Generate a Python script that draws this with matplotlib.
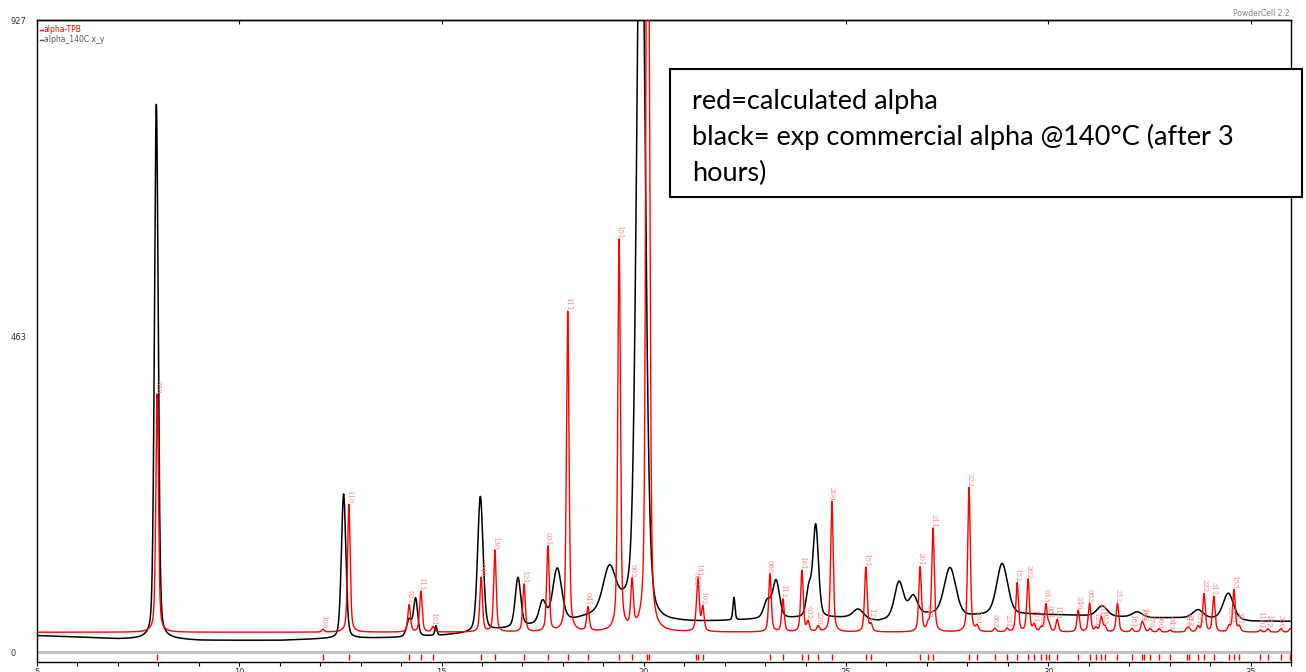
import numpy as np
import matplotlib
matplotlib.use("Agg")
import matplotlib.pyplot as plt
from matplotlib.patches import Rectangle
from matplotlib.lines import Line2D

# ---------------- data ----------------
# calculated pattern (red): reflection positions (2theta), peak heights above baseline, hkl labels
red_pos = [7.97, 12.07, 12.71, 14.20, 14.49, 14.79, 15.98, 16.32, 17.04, 17.63,
           18.12, 18.62, 19.39, 19.71, 20.08, 20.13, 21.29, 21.34, 21.46, 23.12,
           23.44, 23.91, 24.06, 24.31, 24.65, 25.49, 25.62, 26.83, 27.03, 27.15,
           28.04, 28.24, 28.68, 28.98, 29.23, 29.50, 29.65, 29.82, 29.94, 30.02,
           30.22, 30.74, 31.02, 31.18, 31.31, 31.40, 31.71, 32.07, 32.32, 32.37,
           32.52, 32.74, 33.01, 33.43, 33.48, 33.70, 33.85, 34.09, 34.47, 34.59,
           34.72, 35.24, 35.43, 35.75, 35.98]
red_int = [350, 4, 188, 40, 60, 8, 80, 120, 70, 125,
           470, 35, 575, 68, 1100, 600, 8, 75, 35, 85,
           48, 90, 14, 8, 192, 95, 10, 95, 10, 152,
           212, 8, 5, 5, 72, 77, 10, 6, 40, 10,
           18, 32, 42, 6, 22, 8, 42, 5, 14, 5,
           5, 5, 3, 5, 5, 8, 56, 52, 8, 62,
           8, 3, 5, 5, 5]
red_hkl = ["020", "100", "110", "021", "111", "101", "040", "130", "121", "031",
           "111", "041", "151", "002", "140", "131", "012", "141", "102", "060",
           "112", "161", "032", "220", "200", "151", "122", "201", "042", "211",
           "222", "230", "062", "231", "152", "202", "171", "180", "013", "081",
           "113", "240", "082", "123", "251", "033", "212", "181", "133", "162",
           "270", "300", "043", "310", "222", "191", "232", "311", "0101", "153",
           "321", "1101", "182", "330", "301"]
red_baseline = 29

# experimental pattern (black): peak positions, heights above background, widths
blk_pos = [7.95, 12.58, 14.20, 14.36, 14.86, 15.96, 16.89, 17.50, 17.86, 19.15,
           19.93, 22.23, 23.05, 23.27, 24.08, 24.25, 25.30, 26.31, 26.66,
           27.57, 28.86, 31.33, 32.20, 33.70, 34.45]
blk_int = [785, 212, 25, 55, 14, 198, 72, 32, 78, 62,
           1200, 33, 25, 55, 40, 135, 14, 52, 28,
           70, 75, 15, 8, 12, 38]
blk_fwhm = [0.11, 0.13, 0.15, 0.12, 0.06, 0.16, 0.16, 0.2, 0.26, 0.36,
            0.24, 0.06, 0.2, 0.2, 0.15, 0.16, 0.3, 0.26, 0.25,
            0.34, 0.32, 0.3, 0.3, 0.3, 0.3]
# experimental background level (2theta, counts)
bg_x = [5.0, 6.0, 7.0, 8.3, 9.0, 10.0, 11.0, 12.0, 13.0, 14.0, 15.0, 15.6, 16.5,
        17.2, 18.3, 19.0, 19.5, 20.3, 20.8, 22.0, 23.0, 24.5, 25.0, 25.8, 26.5,
        27.0, 28.0, 28.5, 29.5, 30.5, 31.5, 32.5, 33.5, 34.5, 35.0, 36.0]
bg_y = [24, 22, 19, 19, 17, 17, 17, 19, 20, 21, 24, 27, 33,
        38, 46, 56, 60, 38, 42, 45, 48, 50, 50, 45, 52,
        55, 52, 54, 55, 54, 52, 50, 50, 48, 45, 45]

y_ticks = [0, 463, 927]
x_ticks = [5, 10, 15, 20, 25, 30, 35]
legend_labels = ["alpha-TPB", "alpha_140C x_y"]
note_lines = ["red=calculated alpha",
              "black= exp commercial alpha @140\u00b0C (after 3",
              "hours)"]

# ---------------- profiles ----------------
tt = np.arange(5.0, 36.0, 0.004)


def pvoigt(x, x0, h, w, eta):
    d = (x - x0) / (w / 2.0)
    return h * (eta / (1 + d * d) + (1 - eta) * np.exp(-np.log(2) * d * d))


red = np.full_like(tt, float(red_baseline))
for p, h in zip(red_pos, red_int):
    red += pvoigt(tt, p, h, 0.075, 0.5)

black = np.interp(tt, bg_x, bg_y)
for p, h, w in zip(blk_pos, blk_int, blk_fwhm):
    black += pvoigt(tt, p, h, w, 0.3)

# ---------------- figure ----------------
W, H = 1306, 672
fig = plt.figure(figsize=(W / 100, H / 100), dpi=100)
fig.patch.set_facecolor("white")
ax = fig.add_axes([37 / W, 10 / H, (1291 - 37) / W, (662 - 20) / H])
ax.set_xlim(5, 36)
ax.set_ylim(-927 * 10 / 632, 927)

ax.plot(tt, red, color="#ff0000", lw=1.0, zorder=3)
ax.plot(tt, black, color="#000000", lw=1.1, zorder=2)

# gray zero line and reflection markers
ax.axhline(0, color="#c4c4c4", lw=2.2, zorder=1)
ax.vlines(red_pos, -12, -3, color="#ff0000", lw=1.0, zorder=3)

# hkl labels
for p, lab in zip(red_pos, red_hkl):
    m = (tt > p - 0.03) & (tt < p + 0.03)
    top = red[m].max()
    if top < 900:
        ax.text(p, top + 1, lab, rotation=270, ha="center", va="bottom",
                fontsize=5, family="DejaVu Serif", color="#ff8080",
                zorder=4, clip_on=True)

# axes styling
for s in ax.spines.values():
    s.set_color("black")
    s.set_linewidth(1.0)
ax.set_yticks(y_ticks)
ax.set_yticklabels([str(v) for v in y_ticks])
ax.tick_params(axis="y", length=0, pad=19, labelsize=6, labelcolor="#333333")
for t in ax.get_yticklabels():
    t.set_horizontalalignment("left")
ax.set_xticks(x_ticks)
ax.set_xticks(np.arange(5, 37, 1), minor=True)
ax.tick_params(axis="x", which="both", direction="out", length=3, width=0.8,
               pad=1.5, labelsize=6, labelcolor="#333333")

top_ax = ax.secondary_xaxis("top")
top_ax.set_xticks(x_ticks)
top_ax.tick_params(axis="x", which="major", direction="in", length=3, width=0.8,
                   labeltop=False)
top_ax.spines["top"].set_linewidth(1.0)

# legend (top-left)
leg_cols = ["#ff0000", "#555555"]
for i, (lab, c) in enumerate(zip(legend_labels, leg_cols)):
    yy = (H - 30 - 10 * i) / H
    fig.add_artist(Line2D([40 / W, 43 / W], [yy, yy], color=c, lw=1,
                          transform=fig.transFigure))
    fig.text(44 / W, yy, lab, color=c, fontsize=5.5, va="center", ha="left")

fig.text(1290 / W, (H - 14) / H, "PowderCell 2.2", ha="right", va="center",
         fontsize=5.5, color="#808080")

# annotation box
fig.add_artist(Rectangle((670 / W, (H - 197) / H), 632 / W, 128 / H,
                         transform=fig.transFigure, facecolor="white",
                         edgecolor="black", lw=1.5, zorder=10))
for i, line in enumerate(note_lines):
    fig.text(692 / W, (H - 101 - 36 * i) / H, line, ha="left", va="center",
             fontsize=19.5, family="Lato", color="black", zorder=11)

fig.savefig("out.png", dpi=100)
